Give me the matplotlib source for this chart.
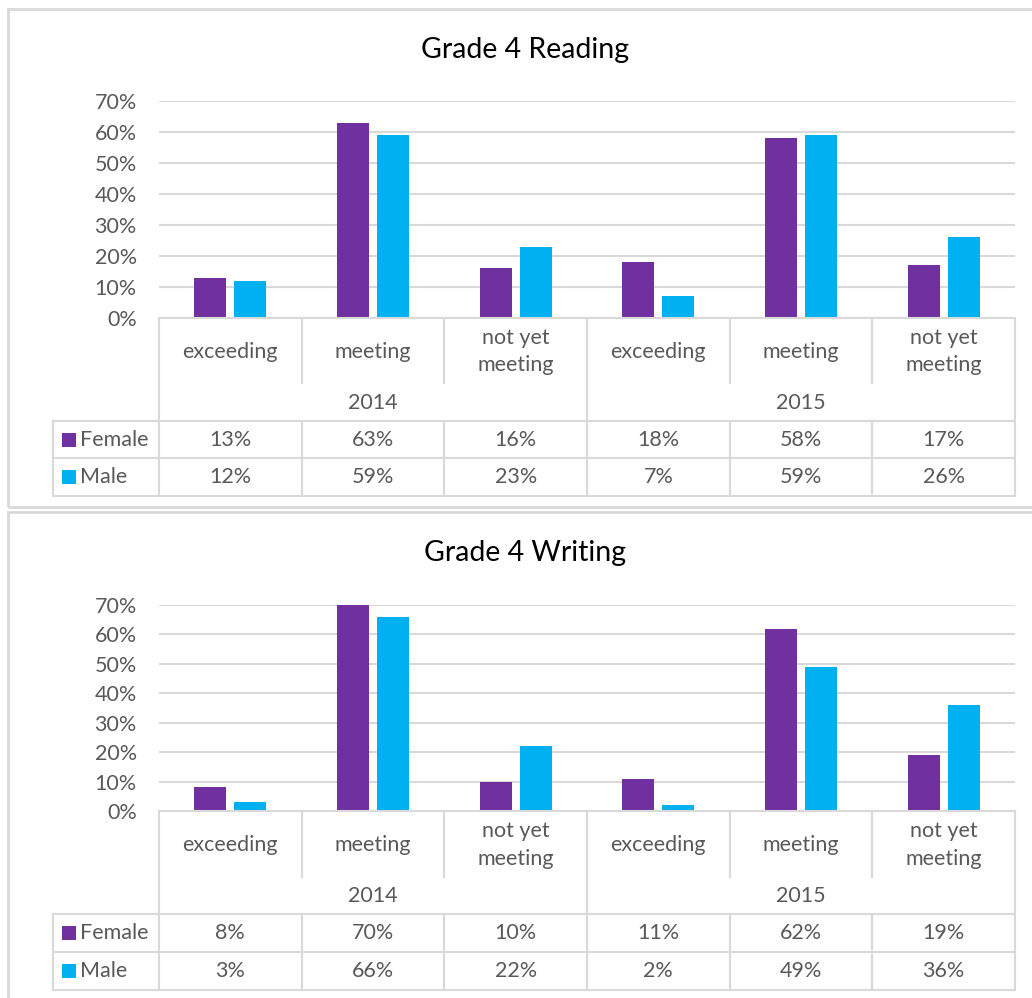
import matplotlib.pyplot as plt
from matplotlib.lines import Line2D
from matplotlib.patches import Rectangle

# data
years = ['2014', '2015']
levels = ['exceeding', 'meeting', 'not yet\nmeeting']
series = ['Female', 'Male']
reading_female = [13, 63, 16, 18, 58, 17]
reading_male = [12, 59, 23, 7, 59, 26]
writing_female = [8, 70, 10, 11, 62, 19]
writing_male = [3, 66, 22, 2, 49, 36]
yticks = [0, 10, 20, 30, 40, 50, 60, 70]

W, H = 1032, 998
PURPLE = '#7030A0'
BLUE = '#00B0F0'
GRID = '#D9D9D9'
TXT = '#595959'
FS = 15.5
plt.rcParams['font.family'] = ['Lato', 'DejaVu Sans']

fig = plt.figure(figsize=(W / 100, H / 100), dpi=100)


def fx(x):
    return x / W


def fy(y):
    return 1 - y / H


def hline(x0, x1, y, lw=1.5):
    fig.add_artist(Line2D([fx(x0), fx(x1)], [fy(y), fy(y)], color=GRID, lw=lw))


def vline(x, y0, y1, lw=1.5):
    fig.add_artist(Line2D([fx(x), fx(x)], [fy(y0), fy(y1)], color=GRID, lw=lw))


def panel(title, female, male, top, title_y, y70, y0, cat_bot, year_y, row_tops):
    # frame of the chart
    fig.add_artist(Rectangle((fx(8), fy(top + 498)), fx(1100), 498 / H,
                             fill=False, edgecolor=GRID, lw=2))
    fig.text(fx(525), fy(title_y), title, ha='center', va='center', fontsize=20.5, color='black')

    left, right = 159, 1015
    cw = (right - left) / 6
    ax = fig.add_axes([fx(left), fy(y0), fx(right - left), (y0 - y70) / H])
    x = list(range(6))
    ax.bar([i - 0.14 for i in x], female, width=0.225, color=PURPLE, zorder=3)
    ax.bar([i + 0.14 for i in x], male, width=0.225, color=BLUE, zorder=3)
    ax.set_xlim(-0.5, 5.5)
    ax.set_ylim(0, 70)
    ax.set_yticks(yticks)
    ax.set_yticklabels([f'{t}%' for t in yticks], fontsize=FS, color=TXT)
    ax.tick_params(axis='y', length=0, pad=16)
    ax.set_xticks([])
    ax.grid(axis='y', color=GRID, lw=1.5, zorder=0)
    for s in ax.spines.values():
        s.set_visible(False)
    ax.patch.set_alpha(0)

    # category row
    hline(left, right, y0)
    for k in range(7):
        if k in (0, 3, 6):
            vline(left + k * cw, y0, row_tops[2])
        else:
            vline(left + k * cw, y0, cat_bot)
            vline(left + k * cw, row_tops[0], row_tops[2])
    for k in range(6):
        fig.text(fx(left + (k + 0.5) * cw), fy((y0 + cat_bot) / 2 + 1), levels[k % 3],
                 ha='center', va='center', fontsize=FS, color=TXT, linespacing=1.45)
    for j, yr in enumerate(years):
        fig.text(fx(left + (3 * j + 1.5) * cw), fy(year_y), yr,
                 ha='center', va='center', fontsize=FS, color=TXT)

    # data table
    for ry in row_tops:
        hline(53, right, ry)
    vline(53, row_tops[0], row_tops[2])
    for r, (name, vals, col) in enumerate(zip(series, [female, male], [PURPLE, BLUE])):
        cy = (row_tops[r] + row_tops[r + 1]) / 2
        fig.add_artist(Rectangle((fx(62), fy(cy + 7)), fx(14), 14 / H, color=col, lw=0))
        fig.text(fx(80), fy(cy), name, ha='left', va='center', fontsize=FS, color=TXT)
        for k, v in enumerate(vals):
            fig.text(fx(left + (k + 0.5) * cw), fy(cy), f'{v}%',
                     ha='center', va='center', fontsize=FS, color=TXT)


panel('Grade 4 Reading', reading_female, reading_male, 9, 50, 101, 318, 383, 403, [421, 458, 496])
panel('Grade 4 Writing', writing_female, writing_male, 512, 553, 605, 811, 877, 896, [914, 952, 990])

fig.savefig('out.png', dpi=100)
